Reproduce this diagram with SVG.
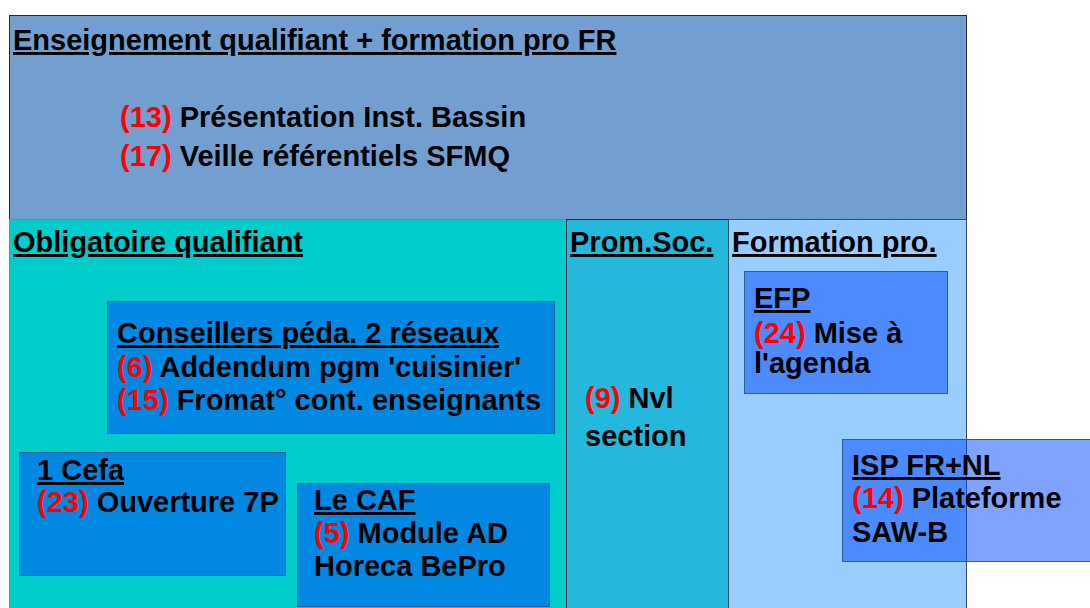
<svg xmlns="http://www.w3.org/2000/svg" width="1090" height="608" viewBox="0 0 1090 608">
<style>
text{font-family:"Liberation Sans",Arial,sans-serif;font-weight:bold;font-size:29px;fill:#000}
.h{text-decoration:underline}
.r{fill:#ff0000}
.box{stroke:#2a6099;stroke-width:1}
</style>
<rect width="1090" height="608" fill="#ffffff"/>
<g id="top">
<rect x="9.5" y="15.5" width="957" height="204" fill="#729fcf" stroke="#1f2f40"/>
<text x="13" y="50" class="h">Enseignement qualifiant + formation pro FR</text>
<text x="120" y="127"><tspan class="r">(13)</tspan> Présentation Inst. Bassin</text>
<text x="120" y="166"><tspan class="r">(17)</tspan> Veille référentiels SFMQ</text>
</g>
<g id="obligatoire">
<rect x="9.5" y="219.5" width="557" height="400" fill="#00cccc" stroke="#7a8a8a"/>
<text x="13" y="252" class="h">Obligatoire qualifiant</text>
</g>
<g id="promsoc">
<rect x="566.5" y="219.5" width="162" height="400" fill="#23b8dc" stroke="#1f3040"/>
<text x="570" y="252" class="h">Prom.Soc.</text>
<text x="585" y="408"><tspan class="r">(9)</tspan> Nvl</text>
<text x="585" y="446">section</text>
</g>
<g id="formationpro">
<rect x="728.5" y="219.5" width="238" height="400" fill="#99ccff" stroke="#3a4a5a"/>
<text x="732" y="252" class="h">Formation pro.</text>
</g>
<g id="conseillers">
<rect class="box" x="107.5" y="301.5" width="447" height="132" fill="#0088e2"/>
<text x="117" y="343" class="h">Conseillers péda. 2 réseaux</text>
<text x="117" y="377"><tspan class="r">(6)</tspan> Addendum pgm 'cuisinier'</text>
<text x="117" y="410"><tspan class="r">(15)</tspan> Fromat° cont. enseignants</text>
</g>
<g id="cefa">
<rect class="box" x="19.5" y="452.5" width="266" height="123" fill="#0088e2"/>
<text x="37" y="480" class="h">1 Cefa</text>
<text x="37" y="512"><tspan class="r">(23)</tspan> Ouverture 7P</text>
</g>
<g id="caf">
<rect class="box" x="297.5" y="483.5" width="252" height="123" fill="#0088e2"/>
<text x="314" y="510" class="h">Le CAF</text>
<text x="314" y="543"><tspan class="r">(5)</tspan> Module AD</text>
<text x="314" y="576">Horeca BePro</text>
</g>
<g id="efp">
<rect class="box" x="744.5" y="271.5" width="203" height="122" fill="#0047ff" fill-opacity="0.5"/>
<text x="754" y="308" class="h">EFP</text>
<text x="754" y="343"><tspan class="r">(24)</tspan> Mise à</text>
<text x="754" y="373">l'agenda</text>
</g>
<g id="isp">
<rect class="box" x="842.5" y="439.5" width="260" height="122" fill="#0047ff" fill-opacity="0.5"/>
<text x="852" y="475" class="h">ISP FR+NL</text>
<text x="852" y="508"><tspan class="r">(14)</tspan> Plateforme</text>
<text x="852" y="542">SAW-B</text>
</g>
<g id="connectors"></g>
</svg>
